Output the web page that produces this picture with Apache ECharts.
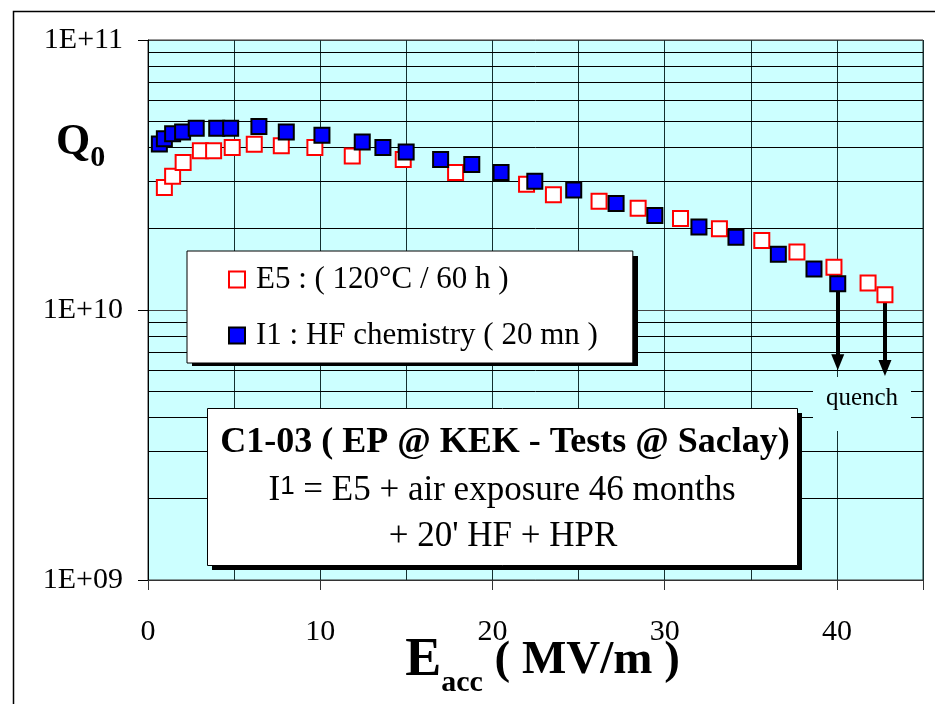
<!DOCTYPE html>
<html>
<head>
<meta charset="utf-8">
<script src="https://cdn.jsdelivr.net/npm/echarts@6/dist/echarts.min.js"></script>
<style>
  html, body { margin: 0; padding: 0; background: #fff; }
  #main { width: 935px; height: 704px; }
</style>
</head>
<body>
<div id="main"></div>
<script>
// E5 : 120°C / 60 h bake
var e5X = [0.95, 1.43, 2.04, 3.04, 3.81, 4.89, 6.17, 7.74, 9.69, 11.86, 14.82, 17.86, 21.98, 23.54, 26.19, 28.46, 30.92, 33.18, 35.64, 37.68, 39.83, 41.81, 42.79];
var e5Q = [2.84e10, 3.13e10, 3.52e10, 3.89e10, 3.89e10, 4.0e10, 4.11e10, 4.06e10, 4.0e10, 3.72e10, 3.61e10, 3.23e10, 2.92e10, 2.67e10, 2.53e10, 2.38e10, 2.18e10, 2.0e10, 1.81e10, 1.64e10, 1.44e10, 1.26e10, 1.14e10];

// I1 : HF chemistry 20 mn
var i1X = [0.66, 0.95, 1.43, 2.01, 2.80, 3.99, 4.80, 6.44, 8.03, 10.1, 12.44, 13.64, 14.99, 16.99, 18.80, 20.50, 22.46, 24.72, 27.18, 29.43, 31.99, 34.14, 36.60, 38.67, 40.05];
var i1Q = [4.12e10, 4.31e10, 4.50e10, 4.56e10, 4.71e10, 4.71e10, 4.71e10, 4.78e10, 4.56e10, 4.44e10, 4.19e10, 4.0e10, 3.85e10, 3.61e10, 3.46e10, 3.23e10, 3.0e10, 2.78e10, 2.48e10, 2.24e10, 2.03e10, 1.86e10, 1.61e10, 1.42e10, 1.25e10];

// quench arrows (x, from Q, to Q)
var quenchX = [40.05, 42.79];
var quenchFrom = [1.25e10, 1.14e10];
var quenchTo = [6.4e9, 6.1e9];

// log grid lines between decades
var minorGridQ = [2e9, 3e9, 4e9, 5e9, 6e9, 7e9, 8e9, 9e9, 2e10, 3e10, 4e10, 5e10, 6e10, 7e10, 8e10, 9e10];

var e5Name = 'E5 : ( 120°C / 60 h )';
var i1Name = 'I1 : HF chemistry ( 20 mn )';

var FONT = '"Liberation Serif", "Times New Roman", serif';
var PLOT_BG = '#CCFFFF';

function pairs(xs, ys) {
    var out = [];
    for (var i = 0; i < xs.length; i++) out.push([xs[i], ys[i]]);
    return out;
}

var gridLines = minorGridQ.map(function (q) { return { yAxis: q }; });
var arrows = quenchX.map(function (x, i) {
    return [{ coord: [x, quenchFrom[i]] }, { coord: [x, quenchTo[i]] }];
});

var myChart = echarts.init(document.getElementById('main'));

myChart.setOption({
    animation: false,
    textStyle: { fontFamily: FONT },
    grid: {
        left: 148, right: 12, top: 40, bottom: 124,
        outerBoundsMode: 'none',
        containLabel: false,
        show: true,
        backgroundColor: PLOT_BG,
        borderColor: '#333',
        borderWidth: 1
    },
    legend: {
        orient: 'vertical',
        left: 187,
        top: 251,
        padding: [13, 35, 12, 41],
        itemGap: 25,
        itemWidth: 16,
        itemHeight: 16,
        backgroundColor: '#fff',
        borderColor: '#000',
        borderWidth: 1,
        selectedMode: false,
        z: 20,
        textStyle: { fontFamily: FONT, fontSize: 31, color: '#000', lineHeight: 30, padding: [0, 0, 0, 6] },
        data: [e5Name, i1Name]
    },
    xAxis: [
        {
            type: 'value',
            min: 0, max: 45, interval: 10,
            axisLine: { lineStyle: { color: '#333', width: 1 } },
            axisTick: { show: true, length: 10, lineStyle: { color: '#333' } },
            axisLabel: {
                margin: 37, fontSize: 30, color: '#000', fontFamily: FONT,
                formatter: function (v) { return v <= 40 ? String(v) : ''; }
            },
            splitLine: { show: true, lineStyle: { color: '#143030', width: 1 } },
            name: '{e|E}{s|acc}{p| ( MV/m )}',
            nameLocation: 'middle',
            nameGap: 54,
            nameMoveOverlap: false,
            nameTextStyle: {
                padding: [0, 0, 0, 14],
                rich: {
                    e: { fontFamily: FONT, fontSize: 54, fontWeight: 'bold', color: '#000' },
                    s: { fontFamily: FONT, fontSize: 30, fontWeight: 'bold', color: '#000', verticalAlign: 'bottom', padding: [0, 0, -10, 0] },
                    p: { fontFamily: FONT, fontSize: 47, fontWeight: 'bold', color: '#000' }
                }
            }
        },
        {
            type: 'value',
            min: 0, max: 45, interval: 5,
            position: 'bottom',
            axisLine: { show: false },
            axisTick: { show: false },
            axisLabel: { show: false },
            splitLine: { show: true, lineStyle: { color: '#143030', width: 1 } }
        }
    ],
    yAxis: {
        type: 'log',
        logBase: 10,
        min: 1e9, max: 1e11,
        axisLine: { show: true, lineStyle: { color: '#000', width: 1 } },
        axisTick: { show: true, length: 10, lineStyle: { color: '#000' } },
        axisLabel: {
            margin: 25, fontSize: 30, color: '#000', fontFamily: FONT,
            padding: [6, 0, 0, 0],
            formatter: function (v) {
                var e = Math.round(Math.log10(v));
                return '1E+' + (e < 10 ? '0' + e : e);
            }
        },
        splitLine: { show: true, lineStyle: { color: '#444', width: 1 } }
    },
    series: [
        {
            // horizontal log grid lines
            type: 'scatter',
            data: [],
            silent: true,
            z: 1,
            markLine: {
                silent: true,
                symbol: 'none',
                label: { show: false },
                lineStyle: { color: '#000', width: 1, type: 'solid' },
                emphasis: { disabled: true },
                data: gridLines
            }
        },
        {
            // quench arrows
            type: 'scatter',
            data: [],
            silent: true,
            z: 2,
            markLine: {
                silent: true,
                symbol: ['none', 'triangle'],
                symbolSize: [13, 16],
                label: { show: false },
                lineStyle: { color: '#000', width: 4, type: 'solid' },
                itemStyle: { color: '#000' },
                emphasis: { disabled: true },
                data: arrows
            }
        },
        {
            name: e5Name,
            type: 'scatter',
            symbol: 'rect',
            symbolSize: 15,
            z: 10,
            itemStyle: { color: '#fff', borderColor: '#ff0000', borderWidth: 2, opacity: 1 },
            data: pairs(e5X, e5Q)
        },
        {
            name: i1Name,
            type: 'scatter',
            symbol: 'rect',
            symbolSize: 15,
            z: 11,
            itemStyle: { color: '#0000ff', borderColor: '#000', borderWidth: 2, opacity: 1 },
            data: pairs(i1X, i1Q)
        }
    ],
    graphic: [
        {
            // outer frame
            type: 'rect',
            z: 0,
            silent: true,
            shape: { x: 13.5, y: 11.5, width: 1000, height: 800 },
            style: { fill: null, stroke: '#000', lineWidth: 1.5 }
        },
        {
            type: 'text',
            x: 56, y: 143,
            z: 30,
            style: {
                text: '{q|Q}{z|0}',
                textVerticalAlign: 'middle',
                rich: {
                    q: { fontFamily: FONT, fontSize: 44, fontWeight: 'bold', fill: '#000' },
                    z: { fontFamily: FONT, fontSize: 30, fontWeight: 'bold', fill: '#000', verticalAlign: 'bottom', padding: [0, 0, -8, 0] }
                }
            }
        },
        {
            // legend drop shadow
            type: 'rect',
            z: 19,
            silent: true,
            shape: { x: 192, y: 256, width: 446, height: 110 },
            style: { fill: '#000' }
        },
        {
            // quench label background
            type: 'rect',
            z: 15,
            silent: true,
            shape: { x: 813, y: 377, width: 98, height: 54 },
            style: { fill: PLOT_BG }
        },
        {
            type: 'text',
            z: 16,
            x: 862, y: 398,
            style: { text: 'quench', font: '25px ' + FONT, fill: '#000', textAlign: 'center', textVerticalAlign: 'middle' }
        },
        {
            // caption box shadow
            type: 'rect',
            z: 19,
            silent: true,
            shape: { x: 212, y: 413, width: 590, height: 157 },
            style: { fill: '#000' }
        },
        {
            type: 'rect',
            z: 20,
            silent: true,
            shape: { x: 207.5, y: 408.5, width: 590, height: 157 },
            style: { fill: '#fff', stroke: '#000', lineWidth: 1 }
        },
        {
            type: 'text',
            z: 21,
            x: 505, y: 443,
            style: { text: 'C1-03 ( EP @ KEK - Tests @ Saclay)', font: 'bold 36px ' + FONT, fill: '#000', textAlign: 'center', textVerticalAlign: 'middle' }
        },
        {
            type: 'text',
            z: 21,
            x: 502, y: 491,
            style: {
                text: '{a|I}{b|1}{a| = E5 + air exposure 46 months}',
                textAlign: 'center',
                textVerticalAlign: 'middle',
                rich: {
                    a: { fontFamily: FONT, fontSize: 35, fill: '#000' },
                    b: { fontFamily: '"Liberation Sans", Arial, sans-serif', fontSize: 26, fill: '#000', verticalAlign: 'top' }
                }
            }
        },
        {
            type: 'text',
            z: 21,
            x: 503, y: 537,
            style: { text: "+ 20' HF + HPR", font: '35px ' + FONT, fill: '#000', textAlign: 'center', textVerticalAlign: 'middle' }
        }
    ]
});
</script>
</body>
</html>
